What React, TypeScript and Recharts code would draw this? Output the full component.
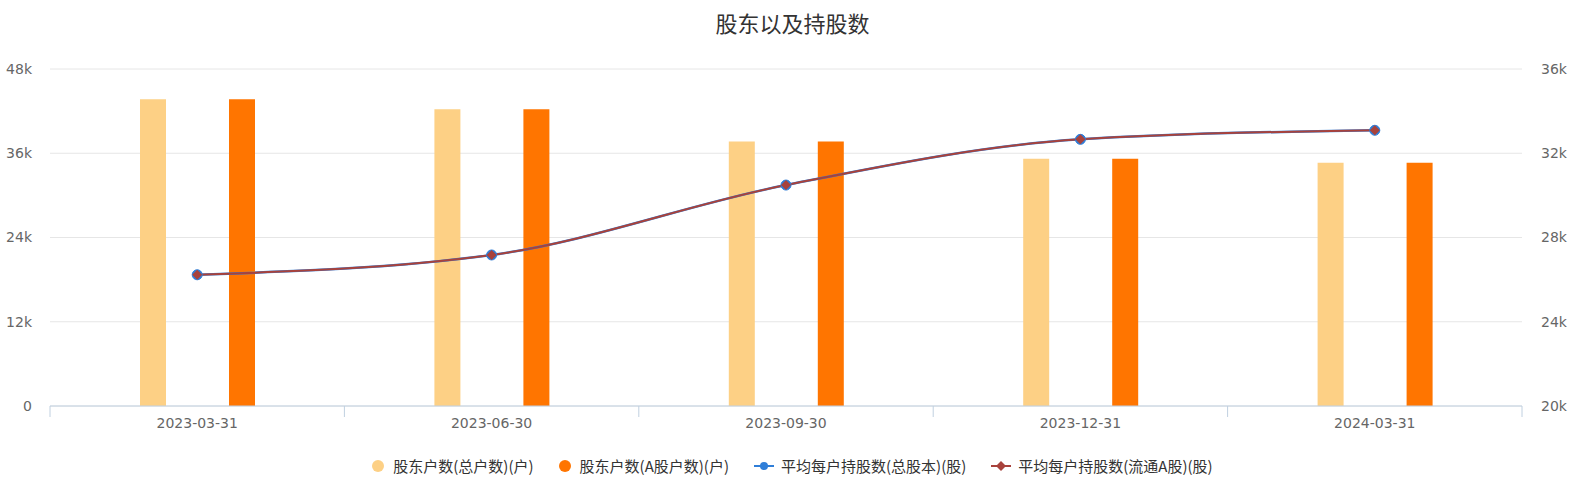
import { ComposedChart, Bar, Line, XAxis, YAxis, CartesianGrid, Legend } from "recharts";

const dates = ["2023-03-31", "2023-06-30", "2023-09-30", "2023-12-31", "2024-03-31"];
const totalHolders = [43700, 42270, 37670, 35220, 34650];
const aShareHolders = [43700, 42270, 37670, 35220, 34650];
const avgPerHolderTotal = [26230, 27170, 30490, 32660, 33090];
const avgPerHolderFloat = [26230, 27170, 30490, 32660, 33090];
const leftTicks = [0, 12000, 24000, 36000, 48000];
const rightTicks = [20000, 24000, 28000, 32000, 36000];

const seriesNames = [
  "股东户数(总户数)(户)",
  "股东户数(A股户数)(户)",
  "平均每户持股数(总股本)(股)",
  "平均每户持股数(流通A股)(股)",
];

const LIGHT = "#fdd085";
const ORANGE = "#ff7500";
const BLUE = "#2f7ed8";
const RED = "#a8423c";
const AXIS = "#c0d0e0";
const LABEL = "#666";
const FONT = "'DejaVu Sans', 'Noto Sans CJK SC', sans-serif";

const data = dates.map((d, i) => ({
  date: d,
  total: totalHolders[i],
  aShare: aShareHolders[i],
  avgTotal: avgPerHolderTotal[i],
  avgFloat: avgPerHolderFloat[i],
}));

const kFmt = (v: number) => (v === 0 ? "0" : `${v / 1000}k`);

const X_MARGIN = 12;

function DateTick(props: any) {
  const { x, y, payload, index, visibleTicksCount, width } = props;
  const half = payload.offset ? payload.offset : width / visibleTicksCount / 2;
  const axisY = y - X_MARGIN;
  return (
    <g>
      <line x1={x - half} x2={x - half} y1={axisY} y2={axisY + 11} stroke={AXIS} />
      {index === visibleTicksCount - 1 && (
        <line x1={x + half} x2={x + half} y1={axisY} y2={axisY + 11} stroke={AXIS} />
      )}
      <text x={x} y={y} dy="0.71em" textAnchor="middle" fill={LABEL} fontSize={14} fontFamily={FONT}>
        {payload.value}
      </text>
    </g>
  );
}

function Diamond(props: any) {
  const { cx, cy } = props;
  if (cx == null || cy == null) return null;
  const s = 5;
  return <path d={`M${cx},${cy - s}L${cx + s},${cy}L${cx},${cy + s}L${cx - s},${cy}Z`} fill={RED} />;
}

function LegendIcon({ idx, color }: { idx: number; color: string }) {
  if (idx < 2) {
    return (
      <svg width={12} height={12} style={{ marginRight: 9 }}>
        <circle cx={6} cy={6} r={6} fill={color} />
      </svg>
    );
  }
  return (
    <svg width={20} height={12} style={{ marginRight: 7 }}>
      <line x1={0} x2={20} y1={6} y2={6} stroke={color} strokeWidth={2} />
      {idx === 2 ? (
        <circle cx={10} cy={6} r={4} fill={color} />
      ) : (
        <path d="M10,1L15,6L10,11L5,6Z" fill={color} />
      )}
    </svg>
  );
}

function renderLegend(props: any) {
  const items = [...(props.payload || [])].sort(
    (a: any, b: any) => seriesNames.indexOf(a.value) - seriesNames.indexOf(b.value)
  );
  return (
    <div style={{ display: "flex", justifyContent: "center", alignItems: "center", gap: 25 }}>
      {items.map((it: any) => {
        const idx = seriesNames.indexOf(it.value);
        return (
          <div key={it.value} style={{ display: "flex", alignItems: "center" }}>
            <LegendIcon idx={idx} color={it.color} />
            <span style={{ fontSize: 15, color: "#333", fontFamily: "'Noto Sans CJK SC', sans-serif" }}>
              {it.value}
            </span>
          </div>
        );
      })}
    </div>
  );
}

export default function App() {
  return (
    <div style={{ position: "absolute", left: 0, top: 0, width: 1585, height: 494, background: "#fff", fontFamily: FONT }}>
      <div
        style={{
          position: "absolute",
          top: 8,
          left: 0,
          width: 1585,
          textAlign: "center",
          fontSize: 22,
          lineHeight: "28px",
          color: "#333",
          fontFamily: "'Noto Sans CJK SC', sans-serif",
        }}
      >
        股东以及持股数
      </div>
      <ComposedChart
        width={1585}
        height={494}
        data={data}
        margin={{ top: 69, right: 8, bottom: 58, left: 8 }}
        barSize={26}
        barGap={63}
      >
        <CartesianGrid yAxisId="left" vertical={false} stroke="#e6e6e6" />
        <XAxis
          dataKey="date"
          height={30}
          axisLine={{ stroke: AXIS }}
          tickLine={false}
          tickSize={0}
          tickMargin={X_MARGIN}
          tick={<DateTick />}
          interval={0}
        />
        <YAxis
          yAxisId="left"
          width={42}
          domain={[0, 48000]}
          ticks={leftTicks}
          tickFormatter={kFmt}
          axisLine={false}
          tickLine={false}
          tickSize={0}
          tickMargin={18}
          tick={{ fill: LABEL, fontSize: 14, fontFamily: FONT }}
        />
        <YAxis
          yAxisId="right"
          orientation="right"
          width={55}
          domain={[20000, 36000]}
          ticks={rightTicks}
          tickFormatter={kFmt}
          axisLine={false}
          tickLine={false}
          tickSize={0}
          tickMargin={19}
          tick={{ fill: LABEL, fontSize: 14, fontFamily: FONT }}
        />
        <Legend
          verticalAlign="middle"
          align="center"
          wrapperStyle={{ top: 455, left: 0, width: 1585 }}
          content={renderLegend}
        />
        <Bar yAxisId="left" dataKey="total" name={seriesNames[0]} fill={LIGHT} isAnimationActive={false} />
        <Bar yAxisId="left" dataKey="aShare" name={seriesNames[1]} fill={ORANGE} isAnimationActive={false} />
        <Line
          yAxisId="right"
          type="monotone"
          dataKey="avgTotal"
          name={seriesNames[2]}
          stroke={BLUE}
          strokeWidth={2.5}
          dot={{ r: 5, fill: BLUE, stroke: BLUE, strokeWidth: 1 }}
          isAnimationActive={false}
        />
        <Line
          yAxisId="right"
          type="monotone"
          dataKey="avgFloat"
          name={seriesNames[3]}
          stroke={RED}
          strokeWidth={2}
          dot={<Diamond />}
          isAnimationActive={false}
        />
      </ComposedChart>
    </div>
  );
}
